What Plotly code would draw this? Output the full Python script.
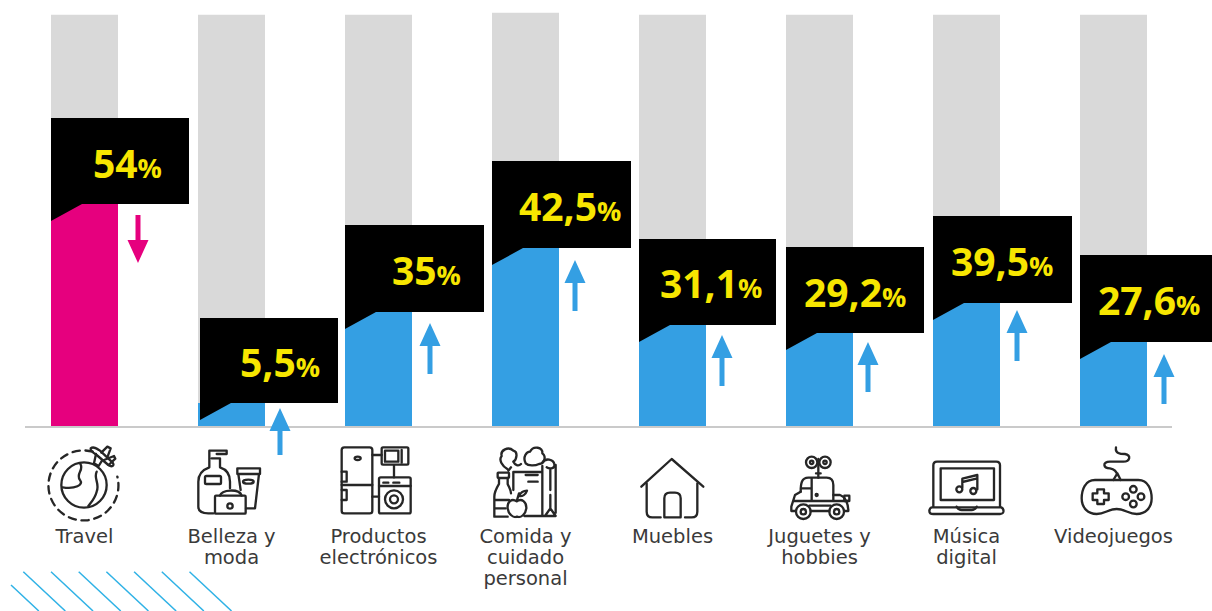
import base64
import plotly.graph_objects as go

# Chart data
categories = ["Travel", "Belleza y<br>moda", "Productos<br>electrónicos", "Comida y<br>cuidado<br>personal",
              "Muebles", "Juguetes y<br>hobbies", "Música<br>digital", "Videojuegos"]
values = [54, 5.5, 35, 42.5, 31.1, 29.2, 39.5, 27.6]
value_labels = ["54", "5,5", "35", "42,5", "31,1", "29,2", "39,5", "27,6"]
track = [97.9, 97.9, 97.9, 98.4, 97.9, 97.9, 97.9, 97.9]
trend = ["down", "up", "up", "up", "up", "up", "up", "up"]

# Canvas geometry
W, H = 1212, 611
BASE = 426
PX_PER_UNIT = 4.2
FIRST_CENTER, STEP = 84.5, 147
PINK, BLUE, GREY, YELLOW = "#e6007e", "#349fe3", "#d9d9d9", "#f7e600"

# Callout boxes and arrows, in pixels
callout_left = [51, 200, 345, 492, 639, 786, 933, 1080]
callout_right = [189, 338, 484, 631, 776, 924, 1072, 1212]
callout_top = [118, 318, 225, 161, 239, 247, 216, 255]
callout_bottom = [204, 403, 312, 248, 325, 333, 303, 342]
label_center = [127, 280, 426, 570, 711, 855, 1002, 1149]
arrow_x = [138, 280, 430, 575, 722, 868, 1017, 1164]
arrow_tip = [263, 408, 323, 260, 335, 342, 310, 354]
arrow_tail = [215, 455, 374, 311, 386, 392, 361, 404]


def fx(px):
    return px / W


def fy(py):
    return (BASE - py) / BASE


def poly(points):
    return "M" + " L".join(f"{fx(x):.5f},{fy(y):.5f}" for x, y in points) + " Z"


def tick_text(name):
    # Larger glyphs on the tick font's tighter line pitch
    return "<br>".join(f"<span style='font-size:19.5px'>{part}</span>" for part in name.split("<br>"))


shapes = []

# Baseline
shapes.append(dict(type="line", xref="paper", yref="paper", x0=fx(25), x1=fx(1172), y0=fy(427), y1=fy(427),
                   line=dict(color="#cacaca", width=2)))

# Callouts with their tail pointing at the bar
for left, right, top, bottom in zip(callout_left, callout_right, callout_top, callout_bottom):
    pts = [(left, top), (right, top), (right, bottom), (left + 31, bottom), (left, bottom + 17)]
    shapes.append(dict(type="path", xref="paper", yref="paper", path=poly(pts), fillcolor="black", line_width=0))

# Trend arrows
for ax, tip, tail, direction in zip(arrow_x, arrow_tip, arrow_tail, trend):
    sign = 1 if tail > tip else -1
    neck = tip + sign * 23
    pts = [(ax, tip), (ax + 10.5, neck), (ax + 2.5, neck), (ax + 2.5, tail), (ax - 2.5, tail),
           (ax - 2.5, neck), (ax - 10.5, neck)]
    shapes.append(dict(type="path", xref="paper", yref="paper", path=poly(pts),
                       fillcolor=PINK if direction == "down" else BLUE, line_width=0))

# Diagonal hatching in the lower left corner
hatch_starts = [(23.3, 571.7), (51, 571.7), (78.7, 571.7), (106.4, 571.7), (134.1, 571.7), (161.8, 571.7),
                (189.5, 571.7), (11, 585)]
for hx, hy in hatch_starts:
    shapes.append(dict(type="line", xref="paper", yref="paper", x0=fx(hx), y0=fy(hy),
                       x1=fx(hx + (611 - hy) / 0.935), y1=fy(611), line=dict(color="#2fb2e6", width=1.5)))

# Category pictograms, drawn at 3x scale and placed by their pixel origin
icons = [
    ((0, 430), (130, 35, 240, 245), """
      <path d="M278 65 A105 105 0 1 0 352 140" stroke-dasharray="22 17"/>
      <circle cx="252" cy="165" r="68"/>
      <path d="M240 100 C255 120 225 130 240 150 C252 165 225 178 188 172"/>
      <path d="M290 125 C280 145 300 160 290 185 C285 205 275 215 265 228"/>
      <path d="M272 55 C280 48 290 55 300 62 L338 98 C345 108 335 112 325 105 L290 75 C280 68 270 62 272 55 Z"/>
      <path d="M304 68 L322 50 L332 55 L322 82 M312 90 L342 78 L346 86 L326 105 M288 72 L282 100 L296 108 L306 92"/>
    """),
    ((0, 430), (580, 40, 215, 225), """
      <path d="M628 85 V62 H680 V72 H650 M635 85 H660 V112 C685 120 690 140 690 155 V175 M628 85 V112 C600 122 595 140 595 155 V230 C595 245 605 250 625 250 H640"/>
      <rect x="615" y="138" width="48" height="24" rx="4"/>
      <path d="M712 115 H780 V132 H712 Z M715 132 L722 180 M777 132 L765 235 H738"/>
      <ellipse cx="745" cy="155" rx="16" ry="6"/>
      <rect x="645" y="197" width="92" height="54" rx="3"/>
      <path d="M660 197 C665 178 718 175 725 197"/>
      <circle cx="690" cy="228" r="8"/>
    """),
    ((0, 430), (1015, 40, 225, 225), """
      <rect x="1025" y="52" width="92" height="198" rx="8"/>
      <path d="M1025 165 H1117 M1117 75 H1145 M1182 106 V142 M1117 200 H1137 M1025 125 H1040 V155 H1025 M1025 180 H1040 V210 H1025"/>
      <ellipse cx="1073" cy="85" rx="9" ry="5"/>
      <rect x="1145" y="52" width="80" height="52" rx="4"/>
      <path d="M1155 62 H1195 V95 H1155 Z M1205 60 V98"/>
      <rect x="1137" y="142" width="95" height="108" rx="5"/>
      <path d="M1137 168 H1232 M1150 158 H1165 M1180 158 H1198"/>
      <circle cx="1182" cy="208" r="27"/>
      <circle cx="1182" cy="208" r="12"/>
    """),
    ((485, 440), (20, 10, 205, 225), """
      <path d="M68 88 C52 78 40 60 50 48 C45 30 70 18 85 32 C100 35 95 60 85 65 C90 75 100 80 108 72"/>
      <path d="M122 70 C112 50 125 35 135 35 C145 15 175 22 172 40 C185 50 178 72 162 72 C150 78 130 78 122 70 Z"/>
      <path d="M172 68 C182 52 205 58 208 72 C212 85 195 88 185 82"/>
      <path d="M78 82 L70 92 M85 96 H172 M85 96 V150 M172 78 V228 H118 M196 90 V150 M196 165 V205 M212 75 V218 M172 228 H212 L196 205 L180 228"/>
      <path d="M122 105 H158 M130 125 H158"/>
      <rect x="38" y="98" width="34" height="16" rx="2"/>
      <path d="M42 114 V132 C36 142 28 155 28 170 V230 H68 M68 114 V132 C72 142 78 150 78 160 M28 180 H72 M28 205 H62"/>
      <path d="M95 184 C80 174 66 185 68 205 C70 222 85 235 96 230 C108 235 122 222 124 205 C125 185 110 174 95 184 Z M95 184 L102 160 M102 168 C108 155 118 152 126 152 C122 164 112 170 102 168"/>
    """),
    ((420, 430), (655, 75, 205, 195), """
      <path d="M664 170 L755 87 L850 170"/>
      <path d="M680 160 V245 Q680 262 697 262 H722 M832 160 V245 Q832 262 815 262 H795"/>
      <path d="M733 262 V205 Q733 188 750 188 H765 Q782 188 782 205 V262 M733 262 H782"/>
    """),
    ((780, 445), (25, 22, 195, 208), """
      <circle cx="95" cy="52" r="17"/><circle cx="95" cy="52" r="5"/>
      <circle cx="135" cy="52" r="17"/><circle cx="135" cy="52" r="5"/>
      <path d="M115 42 V98 M108 85 H122"/>
      <path d="M62 140 C62 115 65 98 85 98 H140 C155 98 160 108 160 120 V165 M95 100 V165 M62 130 H95"/>
      <circle cx="110" cy="150" r="3"/>
      <path d="M62 140 L45 150 L34 185 V198 H46 M160 150 H180 C195 155 205 175 205 198 H194 M92 198 H148 M88 182 H152 M40 168 H205"/>
      <rect x="193" y="152" width="15" height="16"/>
      <circle cx="70" cy="200" r="22"/><circle cx="70" cy="200" r="8"/>
      <circle cx="170" cy="200" r="22"/><circle cx="170" cy="200" r="8"/>
    """),
    ((820, 430), (320, 85, 240, 175), """
      <path d="M340 230 V106 Q340 95 351 95 H529 Q540 95 540 106 V230"/>
      <rect x="362" y="115" width="160" height="95"/>
      <path d="M336 232 H544 Q552 236 550 246 Q548 252 540 252 H340 Q328 252 328 242 Q330 232 336 232 Z"/>
      <path d="M410 230 Q415 240 425 240 H455 Q465 240 470 230"/>
      <path d="M427 172 V146 L472 135 V178 M427 156 L472 145"/>
      <circle cx="418" cy="178" r="9"/><circle cx="460" cy="183" r="9"/>
    """),
    ((820, 430), (778, 45, 225, 215), """
      <path d="M825 150 H955 C985 150 995 180 995 205 C995 235 975 252 950 252 C925 252 915 237 890 237 C865 237 855 252 830 252 C805 252 785 235 785 205 C785 180 795 150 825 150 Z"/>
      <path d="M888 52 C885 70 900 72 915 72 C935 75 930 95 910 95 H870 C845 95 850 115 870 115 C885 118 890 125 892 135 M880 150 L892 130 L902 150"/>
      <path d="M832 178 H852 V190 H866 V210 H852 V222 H832 V210 H818 V190 H832 Z"/>
      <circle cx="940" cy="178" r="10"/><circle cx="940" cy="222" r="10"/>
      <circle cx="917" cy="200" r="10"/><circle cx="963" cy="200" r="10"/>
    """),
]

images = []
for (ox, oy), (vx, vy, vw, vh), body in icons:
    svg = (f'<svg xmlns="http://www.w3.org/2000/svg" width="{vw}" height="{vh}" viewBox="{vx} {vy} {vw} {vh}" '
           f'fill="none" stroke="#262626" stroke-width="7" stroke-linecap="round" stroke-linejoin="round">'
           f'{body}</svg>')
    uri = "data:image/svg+xml;base64," + base64.b64encode(svg.encode()).decode()
    images.append(dict(source=uri, xref="paper", yref="paper", x=fx(ox + vx / 3), y=fy(oy + vy / 3),
                       sizex=vw / 3 / W, sizey=vh / 3 / BASE, xanchor="left", yanchor="top",
                       sizing="stretch", layer="above"))

# Percentage labels inside the callouts
annotations = []
for label, cx, top, bottom in zip(value_labels, label_center, callout_top, callout_bottom):
    annotations.append(dict(
        xref="paper", yref="paper", x=fx(cx), y=fy((top + bottom) / 2 + 1), xanchor="center", yanchor="middle",
        showarrow=False,
        text=f"<b>{label}</b><b><span style='font-size:27px'>%</span></b>",
        font=dict(family="Open Sans", size=39, color=YELLOW),
    ))

positions = list(range(len(categories)))
colors = [PINK if t == "down" else BLUE for t in trend]

fig = go.Figure()
fig.add_bar(x=positions, y=track, marker=dict(color=GREY, line_width=0), width=67 / STEP, hoverinfo="skip")
fig.add_bar(x=positions, y=values, marker=dict(color=colors, line_width=0), width=67 / STEP)

fig.update_layout(
    width=W, height=H, barmode="overlay", showlegend=False,
    paper_bgcolor="white", plot_bgcolor="white",
    margin=dict(l=0, r=0, t=0, b=H - BASE, autoexpand=False),
    shapes=shapes, images=images, annotations=annotations,
)
fig.update_xaxes(range=[-FIRST_CENTER / STEP, (W - FIRST_CENTER) / STEP], tickmode="array",
                 tickvals=positions, ticktext=[tick_text(c) for c in categories],
                 showgrid=False, zeroline=False, showline=False,
                 ticks="", ticklabelstandoff=99, tickangle=0,
                 tickfont=dict(family="DejaVu Sans", size=16.5, color="#3a3a3a"))
fig.update_yaxes(range=[0, BASE / PX_PER_UNIT], visible=False, showgrid=False, zeroline=False)

fig.write_html("out.html", config=dict(displayModeBar=False))
